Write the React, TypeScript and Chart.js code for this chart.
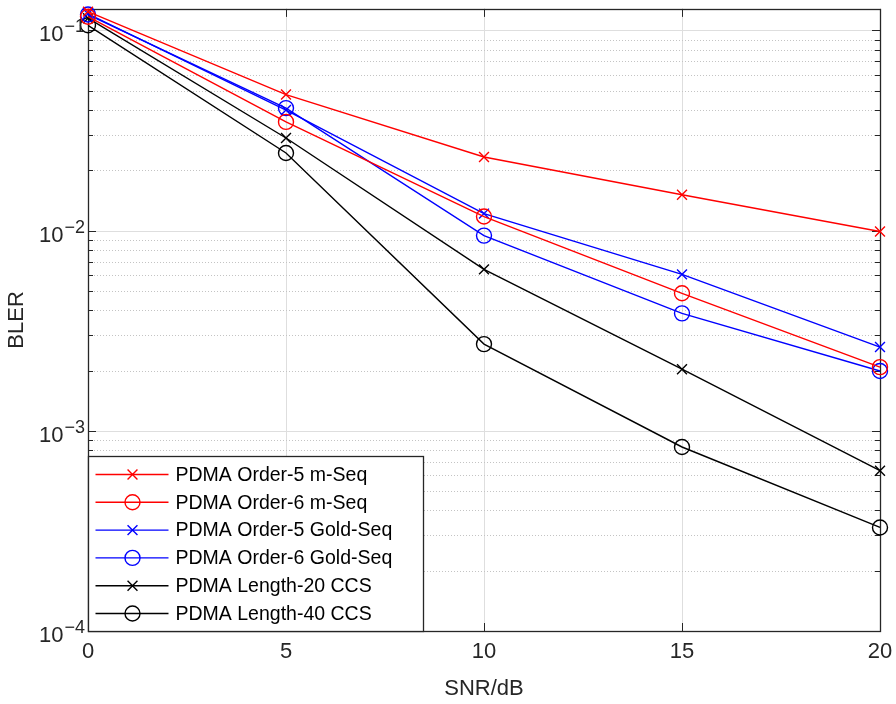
import React, { useEffect, useRef } from 'react';
import { Chart, registerables } from 'chart.js';

Chart.register(...registerables);

// ---- data ----
const snrDb = [0, 5, 10, 15, 20];
const xTickValues = [0, 5, 10, 15, 20];
const yDecades = [1e-4, 1e-3, 1e-2, 1e-1];
const yMin = 1e-4;
const yMax = 0.128;

const seriesLabels = [
  'PDMA Order-5 m-Seq',
  'PDMA Order-6 m-Seq',
  'PDMA Order-5 Gold-Seq',
  'PDMA Order-6 Gold-Seq',
  'PDMA Length-20 CCS',
  'PDMA Length-40 CCS',
];
const order5mSeq = [0.124, 0.0478, 0.0233, 0.0151, 0.0099];
const order6mSeq = [0.117, 0.0349, 0.01175, 0.00486, 0.00208];
const order5Gold = [0.121, 0.04, 0.01216, 0.00604, 0.00262];
const order6Gold = [0.12, 0.0409, 0.00944, 0.00386, 0.00199];
const length20CCS = [0.115, 0.029, 0.0064, 0.00203, 0.000632];
const length40CCS = [0.106, 0.0244, 0.00271, 0.00083, 0.000329];

const seriesValues = [order5mSeq, order6mSeq, order5Gold, order6Gold, length20CCS, length40CCS];
const seriesColors = ['#ff0000', '#ff0000', '#0000ff', '#0000ff', '#000000', '#000000'];
const seriesMarkers = ['crossRot', 'circle', 'crossRot', 'circle', 'crossRot', 'circle'];

const FONT = '"Liberation Sans", Arial, Helvetica, sans-serif';
const AXIS_COLOR = '#262626';

// all minor/major log positions for grid
const yGridValues: { v: number; major: boolean }[] = [];
yDecades.forEach((d) => {
  for (let k = 1; k <= 9; k++) {
    const v = k * d;
    if (v <= yMax * 1.0001) yGridValues.push({ v, major: k === 1 });
  }
});

function drawMarker(ctx: CanvasRenderingContext2D, style: string, x: number, y: number, r: number) {
  ctx.beginPath();
  if (style === 'circle') {
    ctx.arc(x, y, r, 0, Math.PI * 2);
  } else {
    const d = r * Math.SQRT1_2;
    ctx.moveTo(x - d, y - d);
    ctx.lineTo(x + d, y + d);
    ctx.moveTo(x - d, y + d);
    ctx.lineTo(x + d, y - d);
  }
  ctx.stroke();
}

const matlabPlugin = {
  id: 'matlabAxes',
  beforeDatasetsDraw(chart: any) {
    const { ctx, chartArea: a, scales } = chart;
    const xs = scales.x;
    const ys = scales.y;
    ctx.save();
    ctx.lineWidth = 1;
    // vertical grid
    ctx.strokeStyle = '#dedede';
    xTickValues.forEach((v) => {
      const px = Math.round(xs.getPixelForValue(v)) + 0.5;
      if (px <= a.left + 1 || px >= a.right - 1) return;
      ctx.beginPath();
      ctx.moveTo(px, a.top);
      ctx.lineTo(px, a.bottom);
      ctx.stroke();
    });
    // horizontal grid
    yGridValues.forEach(({ v, major }) => {
      const py = Math.round(ys.getPixelForValue(v)) + 0.5;
      if (py <= a.top + 1 || py >= a.bottom - 1) return;
      if (major) {
        ctx.setLineDash([]);
        ctx.strokeStyle = '#dedede';
      } else {
        ctx.setLineDash([1, 2]);
        ctx.strokeStyle = '#c4c4c4';
      }
      ctx.beginPath();
      ctx.moveTo(a.left, py);
      ctx.lineTo(a.right, py);
      ctx.stroke();
    });
    ctx.setLineDash([]);
    // ticks
    ctx.strokeStyle = AXIS_COLOR;
    ctx.lineWidth = 1;
    const majLen = 8;
    const minLen = 5;
    xTickValues.forEach((v) => {
      const px = Math.round(xs.getPixelForValue(v)) + 0.5;
      ctx.beginPath();
      ctx.moveTo(px, a.bottom);
      ctx.lineTo(px, a.bottom - majLen);
      ctx.moveTo(px, a.top);
      ctx.lineTo(px, a.top + majLen);
      ctx.stroke();
    });
    yGridValues.forEach(({ v, major }) => {
      const py = Math.round(ys.getPixelForValue(v)) + 0.5;
      const len = major ? majLen : minLen;
      ctx.beginPath();
      ctx.moveTo(a.left, py);
      ctx.lineTo(a.left + len, py);
      ctx.moveTo(a.right, py);
      ctx.lineTo(a.right - len, py);
      ctx.stroke();
    });
    // box
    ctx.lineWidth = 1.3;
    ctx.strokeRect(Math.round(a.left) + 0.5, Math.round(a.top) + 0.5, Math.round(a.right - a.left), Math.round(a.bottom - a.top));
    ctx.restore();
  },
  afterDatasetsDraw(chart: any) {
    const { ctx, chartArea: a, scales } = chart;
    const ys = scales.y;
    ctx.save();
    // y tick labels with superscripts
    ctx.fillStyle = AXIS_COLOR;
    yDecades.forEach((d) => {
      const py = ys.getPixelForValue(d);
      const n = Math.round(Math.log10(d));
      const exp = (n < 0 ? '\u2212' : '') + String(Math.abs(n));
      ctx.font = `18px ${FONT}`;
      const ew = ctx.measureText(exp).width;
      const right = a.left - 3;
      ctx.textBaseline = 'alphabetic';
      ctx.textAlign = 'left';
      ctx.fillText(exp, right - ew, py + 2);
      ctx.font = `22px ${FONT}`;
      const bw = ctx.measureText('10').width;
      ctx.fillText('10', right - ew - bw - 1, py + 11);
    });
    // axis titles
    ctx.font = `22px ${FONT}`;
    ctx.textAlign = 'center';
    ctx.textBaseline = 'middle';
    ctx.fillStyle = AXIS_COLOR;
    ctx.fillText('SNR/dB', (a.left + a.right) / 2, 689);
    ctx.save();
    ctx.translate(17, (a.top + a.bottom) / 2);
    ctx.rotate(-Math.PI / 2);
    ctx.fillText('BLER', 0, 0);
    ctx.restore();

    // legend
    const lx = Math.round(a.left) + 0.5;
    const lw = 335;
    const lh = 175;
    const ly = Math.round(a.bottom) + 0.5 - lh;
    ctx.fillStyle = '#ffffff';
    ctx.fillRect(lx, ly, lw, lh);
    ctx.strokeStyle = AXIS_COLOR;
    ctx.lineWidth = 1.3;
    ctx.strokeRect(lx, ly, lw, lh);
    const datasets = chart.data.datasets;
    ctx.font = `19.5px ${FONT}`;
    ctx.textAlign = 'left';
    ctx.textBaseline = 'middle';
    datasets.forEach((ds: any, i: number) => {
      const cy = ly + 18 + i * 27.8;
      ctx.strokeStyle = ds.borderColor;
      ctx.lineWidth = 1.4;
      ctx.beginPath();
      ctx.moveTo(lx + 7, cy);
      ctx.lineTo(lx + 80, cy);
      ctx.stroke();
      drawMarker(ctx, ds.pointStyle, lx + 44, cy, ds.pointStyle === 'circle' ? 7.5 : 7);
      ctx.fillStyle = '#000000';
      ctx.fillText(ds.label, lx + 87, cy + 1);
    });
    ctx.restore();
  },
};

export default function App() {
  const canvasRef = useRef<HTMLCanvasElement | null>(null);

  useEffect(() => {
    document.body.style.margin = '0';
    const canvas = canvasRef.current;
    if (!canvas) return;
    const datasets = seriesLabels.map((label, i) => ({
      label,
      data: snrDb.map((x, j) => ({ x, y: seriesValues[i][j] })),
      borderColor: seriesColors[i],
      backgroundColor: 'rgba(0,0,0,0)',
      pointBackgroundColor: 'rgba(0,0,0,0)',
      pointBorderColor: seriesColors[i],
      pointStyle: seriesMarkers[i],
      pointRadius: seriesMarkers[i] === 'circle' ? 7.5 : 7,
      pointBorderWidth: 1.4,
      borderWidth: 1.4,
      tension: 0,
      clip: false,
    }));
    const chart = new Chart(canvas, {
      type: 'line',
      data: { datasets } as any,
      options: {
        animation: false,
        responsive: false,
        maintainAspectRatio: false,
        devicePixelRatio: 1,
        layout: { padding: { top: 6, right: 16, left: 0, bottom: 0 } },
        plugins: { legend: { display: false }, tooltip: { enabled: false } },
        scales: {
          x: {
            type: 'linear',
            min: 0,
            max: 20,
            afterBuildTicks: (scale: any) => {
              scale.ticks = xTickValues.map((v) => ({ value: v }));
            },
            afterFit: (scale: any) => {
              scale.height = 73;
              scale.paddingLeft = 0;
              scale.paddingRight = 0;
            },
            ticks: {
              color: AXIS_COLOR,
              font: { family: FONT, size: 22 },
              padding: 8,
              maxRotation: 0,
              autoSkip: false,
            },
            grid: { display: false, drawTicks: false },
            border: { display: false },
          },
          y: {
            type: 'logarithmic',
            min: yMin,
            max: yMax,
            afterFit: (scale: any) => {
              scale.width = 88;
            },
            ticks: { display: false },
            grid: { display: false, drawTicks: false },
            border: { display: false },
          },
        },
      } as any,
      plugins: [matlabPlugin],
    });
    return () => chart.destroy();
  }, []);

  return (
    <div style={{ position: 'absolute', left: 0, top: 0, width: 896, height: 704 }}>
      <canvas ref={canvasRef} width={896} height={704} style={{ width: 896, height: 704 }} />
    </div>
  );
}
